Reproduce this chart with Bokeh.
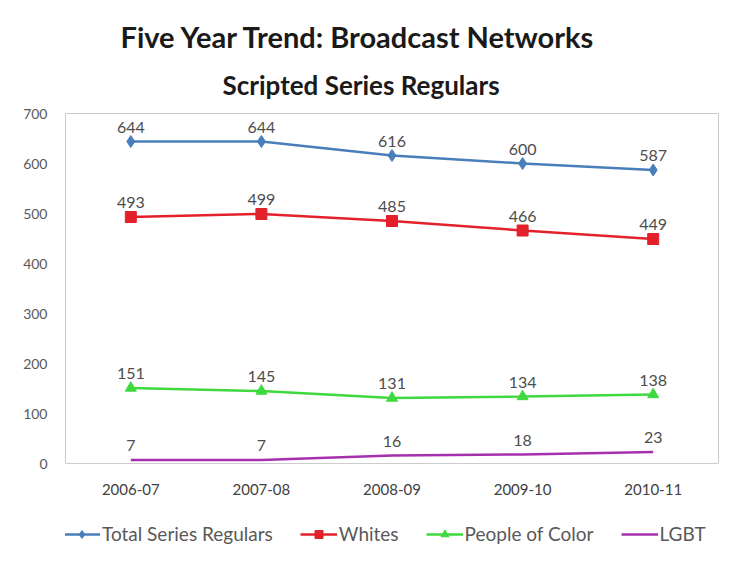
from bokeh.plotting import figure
from bokeh.layouts import column
from bokeh.models import Legend, LegendItem, Title, FactorRange, Range1d, ColumnDataSource, LabelSet
from bokeh.core.properties import value
from bokeh.embed import file_html
from bokeh.resources import INLINE

seasons = ["2006-07", "2007-08", "2008-09", "2009-10", "2010-11"]
total_regulars = [644, 644, 616, 600, 587]
whites = [493, 499, 485, 466, 449]
people_of_color = [151, 145, 131, 134, 138]
lgbt = [7, 7, 16, 18, 23]
y_ticks = [0, 100, 200, 300, 400, 500, 600, 700]

FONT = "Lato"
GRAY = "#595959"
W = 724

p = figure(width=W, height=511, x_range=FactorRange(*seasons), y_range=Range1d(0, 700),
           output_backend="svg", toolbar_location=None, title=None,
           min_border_left=65, min_border_right=6, min_border_top=113, min_border_bottom=48)
p.background_fill_color = "white"
p.border_fill_color = "white"
p.outline_line_color = "#cccccc"
p.outline_line_width = 1
p.xgrid.visible = False
p.ygrid.visible = False
p.x_range.range_padding = 0

p.yaxis.ticker = y_ticks
p.yaxis.axis_line_color = None
p.yaxis.major_tick_line_color = None
p.yaxis.major_tick_out = 0
p.yaxis.minor_tick_line_color = None
p.yaxis.major_label_text_font = FONT
p.yaxis.major_label_text_font_size = "14px"
p.yaxis.major_label_text_color = GRAY
p.yaxis.major_label_standoff = 18

p.xaxis.axis_line_color = None
p.xaxis.major_tick_line_color = None
p.xaxis.major_tick_out = 0
p.xaxis.major_label_text_font = FONT
p.xaxis.major_label_text_font_size = "15px"
p.xaxis.major_label_text_color = "#404040"
p.xaxis.major_label_standoff = 20

series = [
    ("Total Series Regulars", total_regulars, "#4A7EBB", "diamond", 12),
    ("Whites", whites, "#E3212B", "square", 11),
    ("People of Color", people_of_color, "#3FD93F", "triangle", 11),
    ("LGBT", lgbt, "#A530AD", None, 0),
]

lg = figure(width=W, height=44, x_range=Range1d(0, 1), y_range=Range1d(0, 1),
            output_backend="svg", toolbar_location=None, title=None,
            x_axis_type=None, y_axis_type=None,
            min_border_left=0, min_border_right=0, min_border_top=0, min_border_bottom=0)
lg.outline_line_color = None
lg.xgrid.visible = False
lg.ygrid.visible = False

items = []
for name, vals, color, marker, size in series:
    src = ColumnDataSource(dict(x=seasons, y=vals, t=[str(v) for v in vals]))
    p.line("x", "y", source=src, line_color=color, line_width=2.5)
    if marker:
        p.scatter("x", "y", source=src, marker=marker, size=size,
                  fill_color=color, line_color=color)
    lbl = LabelSet(x="x", y="y", text="t", source=src, y_offset=9, text_align="center",
                   text_font=value(FONT), text_font_size="16px", text_color="#4d4d4d")
    p.add_layout(lbl)
    # off-screen stand-in renderers, used only to give the legend its swatches
    proxy = ColumnDataSource(dict(x=[-10, -9], y=[-10, -10]))
    rs = [lg.line("x", "y", source=proxy, line_color=color, line_width=2.5)]
    if marker:
        rs.append(lg.scatter("x", "y", source=proxy, marker=marker, size=size - 2,
                             fill_color=color, line_color=color))
    items.append(LegendItem(label=name, renderers=rs, index=0))

legend = Legend(items=items, orientation="horizontal", location=(-2, 10),
                label_text_font=FONT, label_text_font_size="19px", label_text_color=GRAY,
                border_line_color=None, background_fill_alpha=0,
                glyph_width=37, glyph_height=20, spacing=27, padding=0, margin=0,
                label_standoff=2)
lg.add_layout(legend)

p.add_layout(Title(text="Scripted Series Regulars", align="left", offset=157, text_font=FONT,
                   text_font_style="bold", text_font_size="26px", text_color="#1a1a1a",
                   standoff=26), "above")
p.add_layout(Title(text="Five Year Trend: Broadcast Networks", align="left", offset=55,
                   text_font=FONT, text_font_style="bold", text_font_size="29px",
                   text_color="#1a1a1a", standoff=0), "above")

layout = column(p, lg, spacing=0)
open("out.html", "w").write(file_html(layout, INLINE))
